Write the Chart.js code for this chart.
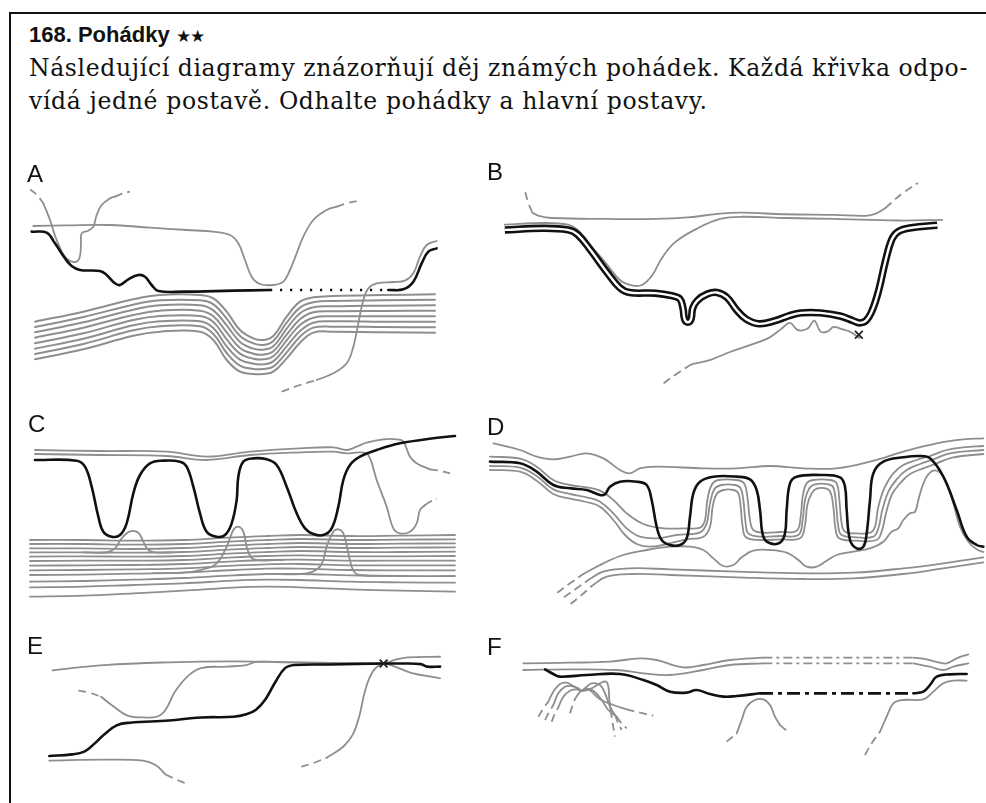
<!DOCTYPE html>
<html><head><meta charset="utf-8">
<script src="https://cdn.jsdelivr.net/npm/chart.js@4.4.1/dist/chart.umd.min.js"></script>
<style>
html,body{margin:0;padding:0;background:#fff}
body{width:986px;height:803px;position:relative;overflow:hidden}
#frame{position:absolute;left:9px;top:12px;width:1000px;height:820px;border-left:2px solid #111;border-top:2px solid #111}
#title{position:absolute;left:29px;top:24px;font:bold 22px "Liberation Sans",Arial,sans-serif;line-height:22px;color:#111;white-space:nowrap}
#title .st{font-size:17px;font-weight:normal;letter-spacing:-1px}
.body{position:absolute;left:29px;font-family:"DejaVu Serif",serif;font-size:23.5px;line-height:33px;color:#111;white-space:nowrap;letter-spacing:0.65px}
#l1{top:52px}
#l2{top:85px}
canvas{position:absolute}
.lbl{position:absolute;font:24px "Liberation Sans",Arial,sans-serif;line-height:24px;color:#111}
</style>
</head><body>
<div id="frame"></div>
<div id="title">168. Pohádky <span class="st">★★</span></div>
<div class="body" id="l1">Následující diagramy znázorňují děj známých pohádek. Každá křivka odpo-</div>
<div class="body" id="l2">vídá jedné postavě. Odhalte pohádky a hlavní postavy.</div>
<canvas id="cA" width="470" height="240" style="left:0;top:160px"></canvas>
<canvas id="cB" width="516" height="240" style="left:470px;top:160px"></canvas>
<canvas id="cC" width="470" height="210" style="left:0;top:400px"></canvas>
<canvas id="cD" width="516" height="210" style="left:470px;top:400px"></canvas>
<canvas id="cE" width="470" height="193" style="left:0;top:610px"></canvas>
<canvas id="cF" width="516" height="193" style="left:470px;top:610px"></canvas>
<div class="lbl" style="left:27px;top:162px">A</div>
<div class="lbl" style="left:487px;top:160px">B</div>
<div class="lbl" style="left:28px;top:412px">C</div>
<div class="lbl" style="left:487px;top:415px">D</div>
<div class="lbl" style="left:27px;top:634px">E</div>
<div class="lbl" style="left:487px;top:635px">F</div>
<script>
// justify first text line to the frame width (as in the printed page)
(function(){
  const l1 = document.getElementById('l1');
  const w = l1.getBoundingClientRect().width;
  const spaces = (l1.textContent.match(/ /g)||[]).length;
  l1.style.wordSpacing = ((939 - w) / spaces) + 'px';
})();

// Story diagrams: x = story time, y = fortune of the character (arbitrary units per panel)
// ---------- Panel A ----------
const A_gray1 = [[10,52.2],[20,52.4],[33,52.5],[45,51.7],[56,51],[64,50.5],[69,49.5],[71.5,47],[73.5,42],[75.5,37],[78,34.8],[82,34.5],[85,35.5],[87,39],[89,44],[91,49],[94,54],[98,57],[101,58]];
const A_gray1End = [[101,58],[104,59],[107.5,59.8]];
const A_gray2Start = [[9,63.2],[11,61.6],[13,59]];
const A_gray2 = [[13,59],[15,54],[17,48],[19.5,43],[22,41.4],[23.8,42.5],[24.3,47],[24.5,50],[26.5,50.8],[28,52],[29,55.5],[30.5,58.5],[33,60.5],[34.5,61]];
const A_gray2End = [[34.5,61],[37,62],[39,62.5]];
const A_hero = [[9.5,50.5],[14,50.2],[16.5,47],[19.5,42.5],[21.5,40.2],[24,39],[30,38.7],[32,37.5],[34.5,35],[36,34.5],[38.5,36.2],[41.5,37.5],[43.5,37],[45.5,34.5],[47.5,32.7],[55,32.5],[70,32.8],[81,33]];
const A_heroHidden = [[81,33],[116.5,33]];
const A_heroEnd = [[116.5,33],[121,33.2],[124,35.5],[126.5,41],[128.5,44.5],[131,45.5]];
const A_gray4Start = [[84.5,2.5],[90,4.5],[95,6]];
const A_gray4 = [[95,6],[100,8],[104,11],[106,16],[107.5,23],[109,30],[110.5,33.5],[113,35],[118,35.4],[121.5,35.8],[124,38],[126,43],[128,46.5],[131,47.7]];
const A_bandTime = [10.5,25,40,48,60,64,68,72,76,79,82,86,90,94,100,115,130.5];
const A_band1 = [23.5,26.5,30.2,31.5,31.5,30.5,26.5,21,18.5,18,19.2,25,29.5,30.8,31.2,31.5,31.7];
const A_band2 = [21.9,24.9,28.6,29.9,29.9,28.7,24.4,19.2,17,16.5,17.7,23.2,27.7,29.3,29.7,29.9,30.1];
const A_band3 = [20.3,23.3,27.1,28.4,28.4,26.9,22.4,17.4,15.4,15.1,16.1,21.4,26,27.8,28.1,28.3,28.4];
const A_band4 = [18.7,21.7,25.5,26.8,26.8,25.1,20.3,15.6,13.9,13.6,14.6,19.6,24.2,26.3,26.6,26.7,26.8];
const A_band5 = [17,20,24,25.2,25.2,23.4,18.2,13.9,12.4,12.2,13.1,17.9,22.5,24.7,25.1,25.1,25.1];
const A_band6 = [15.4,18.4,22.4,23.6,23.6,21.6,16.1,12.1,10.9,10.7,11.6,16.1,20.7,23.2,23.6,23.5,23.5];
const A_band7 = [13.8,16.8,20.9,22.1,22.1,19.8,14.1,10.3,9.3,9.3,10,14.3,19,21.7,22,21.9,21.8];
const A_band8 = [12.2,15.2,19.3,20.5,20.5,18,12,8.5,7.8,7.8,8.5,12.5,17.2,20.2,20.5,20.3,20.2];

// ---------- Panel B ----------
const B_gray1Start = [[14.8,64],[15.8,60.5],[17,57.5]];
const B_gray1 = [[17,57.5],[19,56.5],[23,55.8],[40,55.5],[55,55.5],[65,56],[75,57.2],[82,57.5],[95,57],[110,56.8],[120,56.5],[123,57.2],[126,59]];
const B_gray1End = [[126,59],[131,63.5],[136,67]];
const B_gray2 = [[8.5,53.7],[20,54.2],[28,53.7],[31,52],[35,47],[40,41],[44,36],[48,34.2],[51,34.5],[54,37.5],[57,43],[61,48],[68,52.5],[75,55.5],[82,56.2],[95,55.8],[110,55.5],[130,55],[143.5,55.2]];
const B_hero = [[8.5,52],[20,52.5],[28,52],[31,50.5],[35,45.5],[40,38.5],[44,33.5],[47,32],[55,31.8],[60,31],[62.5,30],[63.5,27],[64,23.5],[65,22.5],[66,23.5],[66.5,27],[68,29.5],[71,31.5],[74,32],[77,30.5],[80,26.5],[83,23.5],[87,22],[92,23],[96,24.5],[100,25.5],[106,25.5],[112,24.5],[116,23],[118,22.3],[120,23],[122,26.5],[124,33],[126,42],[128,49],[130,51.5],[134,52.7],[142,53.5]];
const B_gray4Start = [[57.5,3],[61.5,6],[66,9]];
const B_gray4 = [[66,9],[72,10.5],[78,13],[85,15.5],[90,17.5],[94,20.5],[96.5,22.3],[99,20],[102,20.5],[104,23],[106,19.5],[108,19.5],[110,21],[112,20.5],[115,19.5],[118,17.5]];
const B_death = [[117.8,18.5]];

// ---------- Panel C ----------
const C_gray1 = [[10.5,48],[30,47.7],[50,47.5],[62,46],[75,47.5],[90,48.5],[100,48.8],[104,48],[107,49],[110,50.2],[115,51.2],[119,51.2],[121,50.5],[123,46],[125,44],[127,43],[129,42.2]];
const C_gray1End = [[129,42.2],[132,41.7],[135,41]];
const C_gray2 = [[10.5,46.8],[30,46.5],[50,46.2],[62,45],[75,46.5],[90,47.3],[100,47.5],[104,47],[108,47.3],[110.5,46.5],[113,39],[116,31],[118,24.5],[120,23],[123,23.5],[125,26],[126,30],[127.5,31.5]];
const C_gray2End = [[127.5,31.5],[129.5,32.8],[131,33.5]];
const C_hero = [[10.5,45],[23,44.8],[25.5,43],[27.5,37],[29.5,28],[31,23.5],[33.5,22],[36,22.5],[38,26],[40,35],[42,40.5],[45,44],[49,44.8],[54,44.5],[56,43],[58,37],[60,29],[62,23.5],[65,22],[67.5,22.5],[69.5,26],[71,33],[71.5,40],[73,44.5],[76,45.5],[80,45.2],[83,43.5],[86,37],[89,29],[91.5,24.5],[94,22.8],[97,22.5],[99.5,24.5],[101.5,31],[103,39],[105,43.5],[108,46],[113,48],[120,50],[130,51.5],[136.5,52.2]];
const C_bandTime = [9,25,40,55,70,80,90,105,120,136.5];
const C_band1 = [21,21,20.8,21,21.8,22.2,22.5,22.2,22.3,22.5];
const C_band2 = [19.8,19.8,19.6,19.8,20.6,21,21.3,21,21.1,21.2];
const C_band3 = [18.5,18.5,18.3,18.6,19.4,19.8,20.1,19.8,19.9,20];
const C_band4 = [17.3,17.3,17.2,17.4,18.2,18.6,18.9,18.6,18.7,18.8];
const C_band5 = [16,16.1,16,16.2,17,17.4,17.7,17.4,17.4,17.5];
const C_band6 = [14.7,14.8,14.8,15,15.8,16.2,16.4,16.1,16.1,16.2];
const C_band7 = [13.3,13.4,13.5,13.8,14.6,15,15.1,14.8,14.8,14.8];
const C_band8 = [11.9,12,12.2,12.5,13.3,13.7,13.8,13.4,13.4,13.4];
const C_band9 = [10.5,10.6,10.9,11.2,12,12.4,12.4,12,11.9,11.9];
const C_band10 = [8.5,8.7,9.1,9.6,10.4,10.8,10.8,10.4,10.2,10.2];
const C_band11 = [6.8,7,7.5,8,8.8,9.1,9,8.5,8.3,8.2];
const C_band12 = [4,4.3,5,5.8,6.7,7,6.8,6.2,5.8,5.5];
const C_rise1 = [[25,17.3],[32,17.25],[34.5,18.5],[36.5,21.5],[39,23.6],[41.5,23.2],[43,20.5],[44.5,18],[46.5,17.3],[52,17.3]];
const C_rise2 = [[46,11.05],[55,11.2],[61,12.2],[65,14],[68,19],[70,24],[71.5,25],[73,23.5],[74,19],[75.5,15.6],[78,14.9],[85,15.05]];
const C_rise3 = [[80,10.8],[90,10.8],[94,11.6],[96.5,13.8],[98,19],[100,23.5],[101.5,24.2],[103,23],[104.5,17],[106,11.8],[108,10.5],[118,10.25]];

// ---------- Panel D ----------
const D_top = [[7,50],[15,48],[20,46],[25,45.2],[30,46],[35,47],[40,45.5],[45,42],[48,41],[51,42.5],[56,43],[70,42.5],[80,42.5],[90,43.2],[100,42.5],[110,42.5],[120,44.5],[130,47.5],[140,50],[148,51.2],[154,51.5]];
const D_hero = [[6,44.5],[15,44],[20,41.5],[25,37.5],[30,36.5],[35,36],[39,34.5],[40.5,34.7],[42,37],[45,38.5],[50,38.5],[53,37.5],[54.5,33],[56,25],[57.5,21],[60,19.5],[63,19.5],[65,21.5],[66,28],[67,35],[69,38.5],[73,40],[80,40],[84,39.2],[86,36],[87,30],[88,22],[90,20],[93,20.2],[94.5,23],[95,30],[96,38],[98,40],[105,40.5],[111,39.8],[112.5,37],[113,30],[114,21],[116,18.5],[118,19],[119,23],[120,33],[121,41],[124,44.5],[130,45.8],[135,46.2],[138,45.5],[142,40],[146,30],[149,22],[152,19.5],[154,19]];
const D_grayA = [[6,46],[15,45.4],[20,43],[25,39],[30,37.5],[35,36.8],[39,35.8],[43,33],[47,29],[52,25.8],[58,24.5],[64,24.5],[69,24.7],[70.5,27],[71.2,33],[72.5,37.5],[74.5,39],[80,39],[82.2,38],[83.2,34],[84,27],[85,24],[88,23.2],[93,23.4],[98,23.8],[99.2,28],[99.8,34],[101,38],[103,39],[108,39],[110,38],[110.8,33],[111.5,26],[112.5,23.5],[116,23],[120,23.2],[121.5,25],[122.5,31],[124.5,37],[127,41],[130,43.5],[134,45],[138,46.2],[143,48],[148,48.8],[154,49.2]];
const D_grayB = [[6,43.2],[15,42.7],[20,40.2],[25,36.2],[30,34.8],[35,33.8],[39,32.5],[43,29],[47,24.5],[51,22],[56,21.5],[62,22.5],[69,23.3],[71,26],[72,32],[73.3,36.2],[75.5,37.5],[79.5,37.5],[81.2,36.5],[82,33],[82.7,26],[83.5,23],[87,22],[93,22.2],[98.5,22.5],[99.8,27],[100.5,33],[101.8,36.5],[103.5,37.7],[107.5,37.7],[109,36.8],[109.8,32],[110.5,25],[111.5,22.5],[116,21.8],[121,22],[122.5,24.5],[123.7,30],[125.5,35.5],[128,39.2],[131,42],[135,43.8],[139,45.2],[144,47],[154,48]];
const D_grayC = [[6,42],[15,41.5],[20,38.8],[25,34.8],[30,33.4],[35,32.4],[39,31],[43,27],[46.5,22.5],[50,19.8],[54,19],[59,19.8],[65,21.2],[70,22],[72,25],[72.8,31],[74,34.8],[76,36],[79,36],[80.5,35],[81.2,31],[81.8,25],[82.8,21.8],[87,21],[93,21.2],[99,21.5],[100.5,25.5],[101.2,31.5],[102.5,35],[104,36.4],[107,36.4],[108.2,35.2],[109,31],[109.7,24],[110.8,21.5],[116,20.8],[122,21],[123.5,23.5],[124.8,29],[126.5,34.5],[129,38],[132,40.8],[136,42.5],[140,44],[145,45.8],[154,46.8]];
const D_wanderStart = [[26.2,5.2],[30,8],[34,10.8]];
const D_wander = [[34,10.8],[40,14],[46,16.5],[53,18],[60,19],[66,19],[70,18],[73,15.5],[76,13.2],[79,13.5],[81.5,15.8],[85,17.8],[90,18],[95,17.2],[98.5,15],[101,13],[104,13],[107,14.8],[110,16.5],[115,17.5],[120,18.5],[124,20.5],[126.5,23.5],[128.5,24.5],[130,27],[132,29],[133.5,29.5],[134.5,33],[135.5,36.5],[137,40],[139,41.8],[141,41.2],[143,38],[145,32],[147,25],[149.5,20.5],[152,18.2],[154,17.4]];
const D_low1Start = [[28.2,3.8],[32,6.5],[35.5,9]];
const D_low1 = [[35.5,9],[40,11.5],[48,12.5],[60,12.2],[80,11.5],[100,11],[115,11.2],[130,12.5],[142,14],[154,15.8]];
const D_low2Start = [[30.2,1.8],[33.5,4.5],[36.5,7.2]];
const D_low2 = [[36.5,7.2],[41,10],[49,10.8],[60,10.5],[80,9.8],[100,9.3],[115,9.5],[130,10.8],[142,12.5],[154,14.3]];

// ---------- Panel E ----------
const E_top = [[14,40.7],[30,42.4],[50,43.3],[70,43.6],[90,43.3],[110,42.9],[116.5,42.9],[120,44.1],[124,44.9],[134,45.1]];
const E_grayStart = [[22,34.1],[25.5,33.4],[29,32.1]];
const E_gray = [[29,32.1],[33,28.9],[37,26.1],[42,25.4],[46.5,25.7],[49,27.9],[52,33.9],[56,38.9],[60,41.4],[68,41.9],[74,42.4],[77,43.4],[85,43.3],[100,43.1],[116.5,42.9],[120,41.9],[125,39.9],[134,38.1]];
const E_hero = [[13,12.9],[20,13.4],[24,14.4],[27,16.9],[30,19.9],[34,22.9],[38,23.7],[50,24.4],[60,25.4],[70,25.6],[74,26.4],[77,27.9],[80,31.4],[83,36.9],[86,41.4],[89,42.4],[100,42.6],[116.5,42.9],[122,42.9],[128,42.7],[130,41.9],[134,41.9]];
const E_low = [[13,11.4],[30,11.7],[42,11.4],[46,9.9],[49,6.9]];
const E_lowEnd = [[49,6.9],[52,5.4],[55,4.1]];
const E_riseStart = [[91,9.4],[95,10.7],[99,12.4]];
const E_rise = [[99,12.4],[104,15.9],[107,19.9],[109,25.9],[110.5,32.9],[112,37.9],[114,41.4],[116.5,42.9]];
const E_death = [[116.5,42.9]];

// ---------- Panel F ----------
const F_top = [[16,41.9],[30,42.1],[42,42.4],[51,43.4],[56,42.9],[64,40.7],[70,41.4],[78,42.9],[88,43.6]];
const F_topGap = [[88,43.6],[133,43.6]];
const F_topEnd = [[133,43.6],[137,43.1],[141,42.1],[143,41.9],[146,43.4],[149.5,44.6]];
const F_second = [[16,39.9],[30,40.1],[44,39.9],[52,38.9],[60,38.4],[70,39.9],[78,41.4],[88,41.9]];
const F_secondGap = [[88,41.9],[133,41.9]];
const F_secondEnd = [[133,41.9],[138,40.9],[142,39.9],[145,40.9],[149.5,41.9]];
const F_hero = [[22.5,40.1],[25,38.7],[27,37.9],[35,38.4],[45,38.7],[52,36.9],[56,35.4],[60,33.4],[65,33.1],[68,33.9],[72,32.7],[76,31.9],[80,32.1],[87,32.9]];
const F_heroGap = [[87,32.9],[133,32.9]];
const F_heroEnd = [[133,32.9],[136,33.4],[138,35.4],[140,37.9],[144,38.6],[149,38.7]];
const F_lateStart = [[118.5,14.4],[120.5,17.9],[123,21.4]];
const F_late = [[123,21.4],[125,25.9],[127,29.9],[130,30.9],[136,31.1],[139,33.4],[142,35.9],[145,36.7],[149,36.7]];
const F_visitStart = [[77,18.4],[80,20.9]];
const F_visit = [[80,20.9],[81.5,24.9],[83,28.9],[85.5,30.9],[88,31.1],[90,29.4],[91.5,25.9],[93,23.4]];
const F_visitEnd = [[93,23.4],[94.5,22.1],[96,21.1]];
const F_c1Start = [[20.5,25.9],[22,28.4],[23.5,30.4]];
const F_c1 = [[23.5,30.4],[25,33.4],[27,35.7],[29,36.1],[31,35.1],[33.5,33.7],[36.5,34.4],[39,35.9],[40.8,36.4],[41.5,34.9],[41.8,30.9],[42.2,27.9]];
const F_c1End = [[42.2,27.9],[42.8,23.9],[43.5,19.9]];
const F_c2Start = [[22.5,24.9],[23.8,27.4],[25,29.4]];
const F_c2 = [[25,29.4],[26.5,32.9],[28.5,34.9],[30.5,35.1],[32.5,34.4],[33.5,33.7],[35,34.9],[36.5,35.9],[39,35.4],[40.5,32.9],[42,28.9],[43.5,26.4]];
const F_c2End = [[43.5,26.4],[44.5,23.9],[45.5,21.9]];
const F_c3Start = [[24.5,24.4],[25.5,26.9],[26.5,28.7]];
const F_c3 = [[26.5,28.7],[28,31.9],[30,33.7],[32,34.1],[33.5,33.7],[35,33.9],[37,33.7],[39.5,30.9],[41.5,27.9],[44,25.9]];
const F_c3End = [[44,25.9],[45.5,23.9],[47,22.4]];
const F_c4Start = [[30,26.9],[30.8,29.4],[31.6,31.4]];
const F_c4 = [[31.6,31.4],[32.8,33.1],[33.5,33.7],[35,34.4],[36.5,33.4],[39,31.1],[43,29.4],[47,28.1]];
const F_c4End = [[47,28.1],[51,27.1],[55,26.2]];

// ---------- drawing ----------
const GRAY = '#8e8e8e', BLACK = '#111111';
const DASH = [8,5], DOT = [2.2,7.8], DASHDOT_B = [13,5,4,5], DASHDOT_G = [9,4,3,4];
function pts(a){return a.map(p=>({x:p[0],y:p[1]}));}
function zip(t,v){return t.map((x,i)=>({x:x,y:v[i]}));}
function ln(data, color, width, dash, tension, cap){
  return {data: Array.isArray(data[0]) ? pts(data) : data, showLine:true, borderColor:color, backgroundColor:color,
    borderWidth:width, borderDash:dash||[], pointRadius:0, pointHoverRadius:0, tension:(tension===undefined?0.4:tension),
    fill:false, clip:false, borderCapStyle:cap||((dash&&dash.length)?'butt':'round'), borderJoinStyle:'round'};
}
function gray(d,dash,w){return ln(d,GRAY,w||1.8,dash);}
function black(d,dash,w){return ln(d,BLACK,w||2.6,dash);}
function cross(d){return {data:pts(d), showLine:false, pointStyle:'crossRot', pointRadius:5.5, borderColor:'#222', borderWidth:1.8};}
function chart(id, W, H, datasets){
  // later datasets are painted on top
  datasets.forEach((d,i)=>{ d.order = datasets.length - i; });
  new Chart(document.getElementById(id), {type:'scatter', data:{datasets}, options:{
    responsive:false, animation:false, devicePixelRatio:1, events:[],
    layout:{padding:0},
    plugins:{legend:{display:false}, tooltip:{enabled:false}, title:{display:false}},
    scales:{x:{type:'linear', display:false, min:0, max:W}, y:{type:'linear', display:false, min:0, max:H}}
  }});
}

chart('cA', 141, 72, [
  ...[A_band1,A_band2,A_band3,A_band4,A_band5,A_band6,A_band7,A_band8].map(b=>gray(zip(A_bandTime,b),null,2)),
  gray(A_gray1), gray(A_gray1End,DASH), gray(A_gray2Start,DASH), gray(A_gray2), gray(A_gray2End,DASH),
  gray(A_gray4Start,DASH), gray(A_gray4),
  black(A_hero), ln(A_heroHidden,BLACK,2.6,DOT,0), black(A_heroEnd)
]);
chart('cB', 154.8, 72, [
  gray(B_gray1Start,DASH), gray(B_gray1), gray(B_gray1End,DASH), gray(B_gray2),
  gray(B_gray4Start,DASH), gray(B_gray4),
  ln(B_hero,BLACK,7.5,null,0.4,'butt'), ln(B_hero,'#ffffff',2.4,null,0.4,'butt'),
  cross(B_death)
]);
chart('cC', 141, 63, [
  ...[C_band1,C_band2,C_band3,C_band4,C_band5,C_band6,C_band7,C_band8,C_band9,C_band10,C_band11,C_band12].map(b=>gray(zip(C_bandTime,b),null,1.8)),
  gray(C_rise1), gray(C_rise2), gray(C_rise3),
  gray(C_gray1), gray(C_gray1End,DASH), gray(C_gray2), gray(C_gray2End,DASH),
  black(C_hero)
]);
chart('cD', 154.8, 63, [
  gray(D_top), gray(D_grayA), gray(D_grayB), gray(D_grayC),
  gray(D_wanderStart,DASH), gray(D_wander),
  gray(D_low1Start,DASH), gray(D_low1), gray(D_low2Start,DASH), gray(D_low2),
  black(D_hero)
]);
chart('cE', 141, 57.9, [
  gray(E_top), gray(E_grayStart,DASH), gray(E_gray), gray(E_low), gray(E_lowEnd,DASH),
  gray(E_riseStart,DASH), gray(E_rise),
  black(E_hero), cross(E_death)
]);
chart('cF', 154.8, 57.9, [
  gray(F_top), ln(F_topGap,GRAY,1.8,DASHDOT_G,0), gray(F_topEnd),
  gray(F_second), ln(F_secondGap,GRAY,1.8,DASHDOT_G,0), gray(F_secondEnd),
  gray(F_lateStart,DASH), gray(F_late),
  gray(F_visitStart,DASH), gray(F_visit), gray(F_visitEnd,DASH),
  gray(F_c1Start,DASH), gray(F_c1), gray(F_c1End,DASH),
  gray(F_c2Start,DASH), gray(F_c2), gray(F_c2End,DASH),
  gray(F_c3Start,DASH), gray(F_c3), gray(F_c3End,DASH),
  gray(F_c4Start,DASH), gray(F_c4), gray(F_c4End,DASH),
  black(F_hero), ln(F_heroGap,BLACK,2.6,DASHDOT_B,0), black(F_heroEnd)
]);
</script>
</body></html>
